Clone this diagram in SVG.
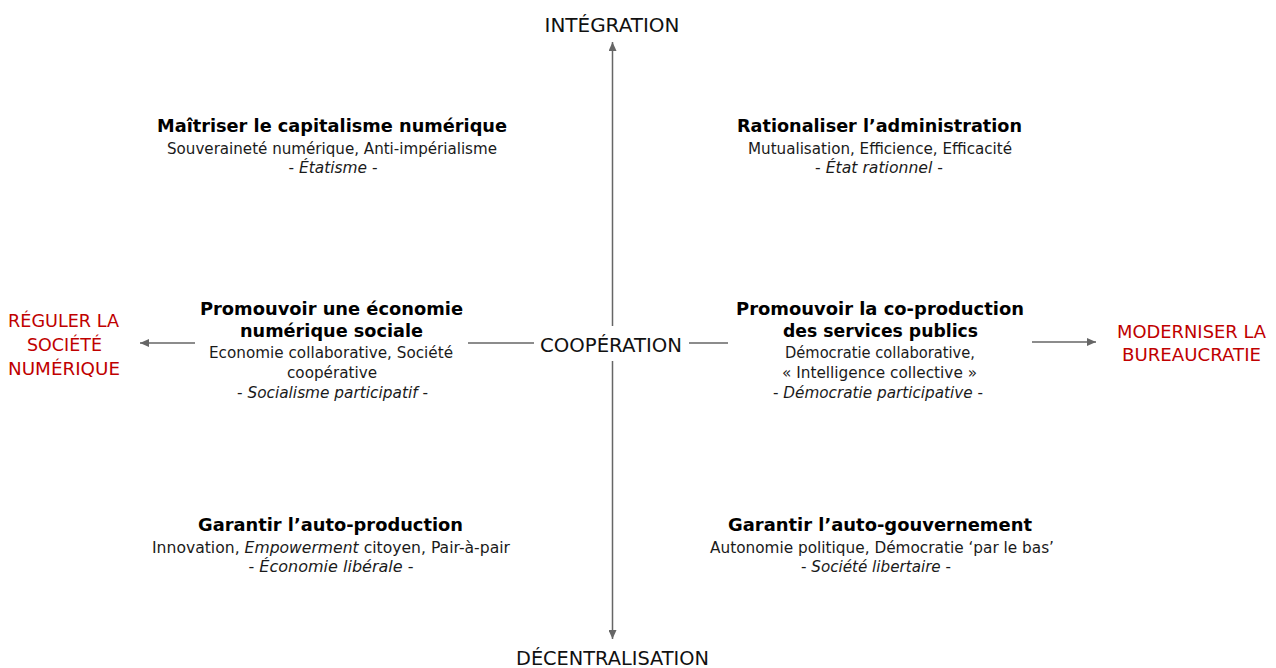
<svg xmlns="http://www.w3.org/2000/svg" width="1276" height="668" viewBox="0 0 1276 668">
<style>
text{font-family:"DejaVu Sans","Noto Sans",sans-serif;text-anchor:middle}
.ax{font-size:20px;fill:#111}
.red{font-size:18.5px;fill:#C00000}
.t{font-size:17.5px;font-weight:bold;fill:#000}
.s{font-size:15.5px;fill:#1a1a1a}
.i{font-style:italic}
.ln{stroke:#666;stroke-width:1.5;fill:none}
</style>
<defs>
<marker id="ah" viewBox="0 0 9 8" refX="9" refY="4" markerWidth="9" markerHeight="8" markerUnits="userSpaceOnUse" orient="auto">
<path d="M0,0 L9,4 L0,8 z" fill="#666"/>
</marker>
</defs>
<rect width="1276" height="668" fill="#fff"/>
<g id="connectors">
<path class="ln" d="M612.5 326 L612.5 42" marker-end="url(#ah)"/>
<path class="ln" d="M612.5 361 L612.5 639" marker-end="url(#ah)"/>
<path class="ln" d="M195 343 L140 343" marker-end="url(#ah)"/>
<path class="ln" d="M468 343 L534 343"/>
<path class="ln" d="M689 343 L728 343"/>
<path class="ln" d="M1032 342 L1096 342" marker-end="url(#ah)"/>
</g>
<g id="axis-integration"><text class="ax" x="612" y="32" textLength="135" lengthAdjust="spacingAndGlyphs">INTÉGRATION</text></g>
<g id="axis-cooperation"><text class="ax" x="611" y="352" textLength="142" lengthAdjust="spacingAndGlyphs">COOPÉRATION</text></g>
<g id="axis-decentralisation"><text class="ax" x="612.5" y="665" textLength="193" lengthAdjust="spacingAndGlyphs">DÉCENTRALISATION</text></g>
<g id="reguler">
<text class="red" x="63.5" y="327" textLength="111" lengthAdjust="spacingAndGlyphs">RÉGULER LA</text>
<text class="red" x="64.5" y="351" textLength="75" lengthAdjust="spacingAndGlyphs">SOCIÉTÉ</text>
<text class="red" x="64" y="375" textLength="112" lengthAdjust="spacingAndGlyphs">NUMÉRIQUE</text>
</g>
<g id="moderniser">
<text class="red" x="1191.5" y="338" textLength="149" lengthAdjust="spacingAndGlyphs">MODERNISER LA</text>
<text class="red" x="1191.5" y="361" textLength="139" lengthAdjust="spacingAndGlyphs">BUREAUCRATIE</text>
</g>
<g id="capitalisme">
<text class="t" x="332" y="132" textLength="350" lengthAdjust="spacingAndGlyphs">Maîtriser le capitalisme numérique</text>
<text class="s" x="332" y="154" textLength="330" lengthAdjust="spacingAndGlyphs">Souveraineté numérique, Anti-impérialisme</text>
<text class="s" x="333" y="173" textLength="89" lengthAdjust="spacingAndGlyphs">- <tspan class="i">Étatisme</tspan> -</text>
</g>
<g id="administration">
<text class="t" x="879.5" y="132" textLength="285" lengthAdjust="spacingAndGlyphs">Rationaliser l’administration</text>
<text class="s" x="880" y="154" textLength="264" lengthAdjust="spacingAndGlyphs">Mutualisation, Efficience, Efficacité</text>
<text class="s" x="879" y="173" textLength="128" lengthAdjust="spacingAndGlyphs">- <tspan class="i">État rationnel</tspan> -</text>
</g>
<g id="economie-sociale">
<text class="t" x="331.5" y="315" textLength="263" lengthAdjust="spacingAndGlyphs">Promouvoir une économie</text>
<text class="t" x="331.5" y="337" textLength="183" lengthAdjust="spacingAndGlyphs">numérique sociale</text>
<text class="s" x="331" y="358" textLength="244" lengthAdjust="spacingAndGlyphs">Economie collaborative, Société</text>
<text class="s" x="332" y="378" textLength="90" lengthAdjust="spacingAndGlyphs">coopérative</text>
<text class="s" x="332.5" y="398" textLength="191" lengthAdjust="spacingAndGlyphs">- <tspan class="i">Socialisme participatif</tspan> -</text>
</g>
<g id="co-production">
<text class="t" x="880" y="315" textLength="288" lengthAdjust="spacingAndGlyphs">Promouvoir la co-production</text>
<text class="t" x="880.5" y="337" textLength="195" lengthAdjust="spacingAndGlyphs">des services publics</text>
<text class="s" x="880" y="358" textLength="190" lengthAdjust="spacingAndGlyphs">Démocratie collaborative,</text>
<text class="s" x="879.5" y="378" textLength="195" lengthAdjust="spacingAndGlyphs">« Intelligence collective »</text>
<text class="s" x="878" y="398" textLength="210" lengthAdjust="spacingAndGlyphs">- <tspan class="i">Démocratie participative</tspan> -</text>
</g>
<g id="auto-production">
<text class="t" x="330.5" y="531" textLength="265" lengthAdjust="spacingAndGlyphs">Garantir l’auto-production</text>
<text class="s" x="331" y="553" textLength="358" lengthAdjust="spacingAndGlyphs">Innovation, <tspan class="i">Empowerment</tspan> citoyen, Pair-à-pair</text>
<text class="s" x="331" y="572" textLength="165" lengthAdjust="spacingAndGlyphs">- <tspan class="i">Économie libérale</tspan> -</text>
</g>
<g id="auto-gouvernement">
<text class="t" x="880" y="531" textLength="304" lengthAdjust="spacingAndGlyphs">Garantir l’auto-gouvernement</text>
<text class="s" x="882" y="553" textLength="344" lengthAdjust="spacingAndGlyphs">Autonomie politique, Démocratie ‘par le bas’</text>
<text class="s" x="876" y="572" textLength="150" lengthAdjust="spacingAndGlyphs">- <tspan class="i">Société libertaire</tspan> -</text>
</g>
</svg>
